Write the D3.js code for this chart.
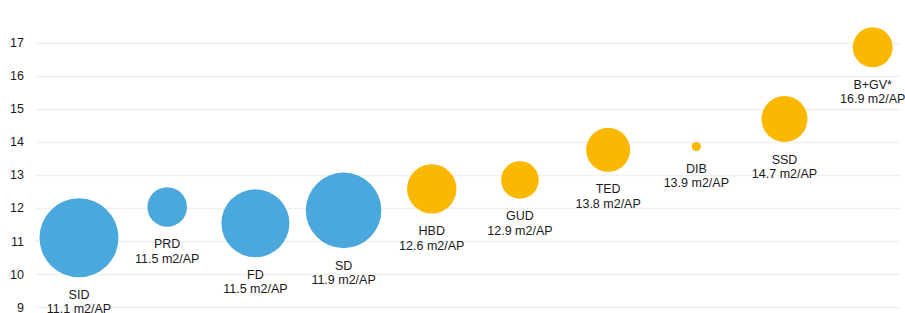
<!DOCTYPE html>
<html>
<head>
<meta charset="utf-8">
<script src="https://cdn.jsdelivr.net/npm/d3@7"></script>
<style>
  html, body { margin: 0; padding: 0; background: #fff; }
  text { font-family: "Liberation Sans", Arial, sans-serif; }
</style>
</head>
<body>
<div id="chart"></div>
<script>
// categories in plotting order
const categories = ["SID", "PRD", "FD", "SD", "HBD", "GUD", "TED", "DIB", "SSD", "B+GV*"];
// vertical position of each bubble
const yValues = [11.1, 12.03, 11.54, 11.93, 12.58, 12.85, 13.76, 13.86, 14.69, 16.86];
// printed label values (m2/AP)
const labelValues = ["11.1", "11.5", "11.5", "11.9", "12.6", "12.9", "13.8", "13.9", "14.7", "16.9"];
// relative bubble size
const sizes = [100, 25.1, 74.1, 91.6, 39.1, 22.7, 31.0, 1.4, 33.9, 25.6];
// group: 0 = blue, 1 = orange
const groups = [0, 0, 0, 0, 1, 1, 1, 1, 1, 1];
const yTicks = [9, 10, 11, 12, 13, 14, 15, 16, 17];

const width = 905,
      height = 313;

const colors = ["#4aa8dc", "#fbb800"];

const svg = d3.select("#chart").append("svg")
    .attr("width", width)
    .attr("height", height);

const x = d3.scalePoint()
    .domain(categories)
    .range([79, 872.7]);

const y = d3.scaleLinear()
    .domain([9, 17])
    .range([307.3, 42.7]);

const r = d3.scaleSqrt()
    .domain([0, d3.max(sizes)])
    .range([0, 39.5]);

// gridlines
svg.append("g")
    .selectAll("line")
    .data(yTicks)
    .join("line")
      .attr("x1", 35)
      .attr("x2", 900)
      .attr("y1", d => Math.round(y(d)) + 0.5)
      .attr("y2", d => Math.round(y(d)) + 0.5)
      .attr("stroke", "#f0f0f0")
      .attr("stroke-width", 1.5);

// y tick labels
svg.append("g")
    .selectAll("text")
    .data(yTicks)
    .join("text")
      .attr("x", 24)
      .attr("y", d => y(d))
      .attr("dy", "0.35em")
      .attr("text-anchor", "end")
      .attr("font-size", 12.5)
      .attr("fill", "#1a1a1a")
      .text(d => d);

const points = categories.map((c, i) => ({
    name: c,
    y: yValues[i],
    label: labelValues[i],
    size: sizes[i],
    group: groups[i]
}));

// bubbles
svg.append("g")
    .selectAll("circle")
    .data(points)
    .join("circle")
      .attr("cx", d => x(d.name))
      .attr("cy", d => y(d.y))
      .attr("r", d => r(d.size))
      .attr("fill", d => colors[d.group]);

// labels under each bubble
const lab = svg.append("g")
    .selectAll("text")
    .data(points)
    .join("text")
      .attr("text-anchor", "middle")
      .attr("font-size", 12.5)
      .attr("fill", "#1a1a1a")
      .attr("transform", d => `translate(${x(d.name)},${y(d.y) + r(d.size) + 21.5})`);

lab.append("tspan")
    .attr("x", 0)
    .text(d => d.name);

lab.append("tspan")
    .attr("x", 0)
    .attr("dy", 14.5)
    .text(d => d.label + " m2/AP");
</script>
</body>
</html>
